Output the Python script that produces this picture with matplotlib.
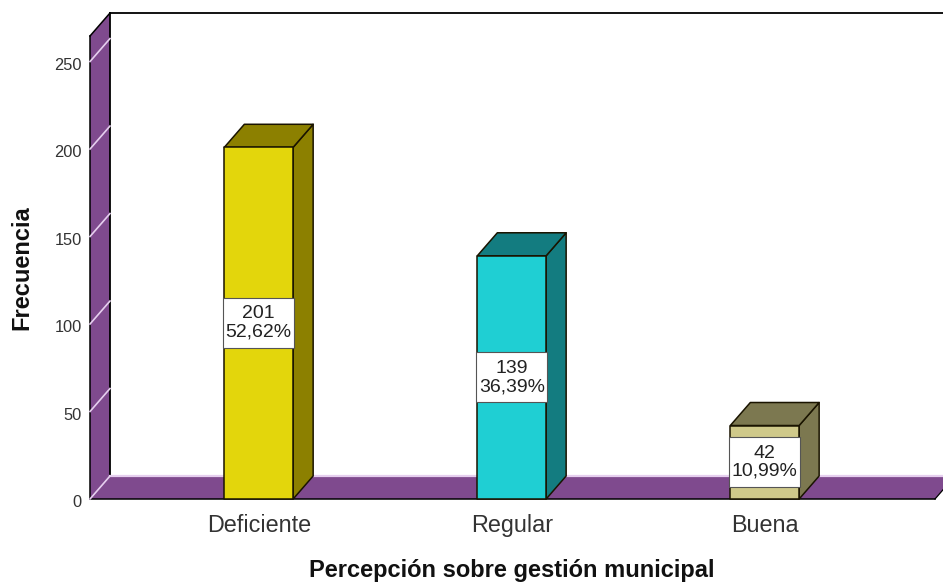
import matplotlib
matplotlib.use("Agg")
import matplotlib.pyplot as plt
from matplotlib.patches import Polygon
from matplotlib.transforms import Affine2D

plt.rcParams['font.family'] = ['Liberation Sans', 'DejaVu Sans']

categories = ['Deficiente', 'Regular', 'Buena']
counts = [201, 139, 42]
percents = ['52,62%', '36,39%', '10,99%']
yTicks = [0, 50, 100, 150, 200, 250]

frontColors = ['#E3D60C', '#1FCFD3', '#CFC98A']
sideColors = ['#8C8000', '#137C80', '#7C7850']
wallColor = '#7F4A8E'
tickColor = '#E6CFEF'
edgeColor = '#1A1400'

figWidth = 943
figHeight = 583
left, right = 90, 935
top, bottom = 36, 499
xMin, xMax = -0.667, 2.673
yMax = 264.6
barWidth = 0.272
boxWidth = 0.282
boxHeight = 28.6

fig = plt.figure(figsize=(figWidth/100, figHeight/100), dpi=100)
ax = fig.add_axes([left/figWidth, 1 - bottom/figHeight, (right-left)/figWidth, (bottom-top)/figHeight])
ax.set_xlim(xMin, xMax)
ax.set_ylim(0, yMax)
for spine in ax.spines.values():
    spine.set_visible(False)
ax.patch.set_alpha(0)

# depth of the fake 3d box, in data units
depthX = 20 * (xMax - xMin) / (right - left)
depthY = 23 * yMax / (bottom - top)

def face(points, color, z, edge=edgeColor, lw=1.1):
    ax.add_patch(Polygon(points, closed=True, facecolor=color, edgecolor=edge,
                         linewidth=lw, zorder=z, clip_on=False, joinstyle='round'))

# left wall
face([(xMin, 0), (xMin + depthX, depthY), (xMin + depthX, yMax + depthY), (xMin, yMax)], wallColor, 1, edge='none')
ax.plot([xMin, xMin], [0, yMax], color='black', lw=1.1, zorder=2, clip_on=False)
ax.plot([xMin + depthX, xMin + depthX], [depthY, yMax + depthY], color='black', lw=1.3, zorder=2, clip_on=False)
ax.plot([xMin, xMin + depthX], [yMax, yMax + depthY], color='black', lw=1.1, zorder=2, clip_on=False)
ax.plot([xMin + depthX, xMax + depthX], [yMax + depthY, yMax + depthY], color='black', lw=1.3, zorder=2, clip_on=False)

# floor
face([(xMin, 0), (xMin + depthX, depthY), (xMax + depthX, depthY), (xMax, 0)], wallColor, 1, edge='none')
ax.plot([xMin + depthX, xMax + depthX], [depthY, depthY], color=tickColor, lw=1.6, zorder=2, clip_on=False)
ax.plot([xMin, xMax], [0, 0], color='black', lw=1.1, zorder=2, clip_on=False)
ax.plot([xMax, xMax + depthX], [0, depthY], color='black', lw=0.9, zorder=2, clip_on=False)

# gridlines across the wall
for t in yTicks:
    ax.plot([xMin, xMin + depthX], [t, t + depthY], color=tickColor, lw=1.2, zorder=3, clip_on=False)

for i, value in enumerate(counts):
    x0 = i - barWidth/2
    x1 = i + barWidth/2
    face([(x1, 0), (x1 + depthX, depthY), (x1 + depthX, value + depthY), (x1, value)], sideColors[i], 4)
    face([(x0, value), (x1, value), (x1 + depthX, value + depthY), (x0 + depthX, value + depthY)], sideColors[i], 4)
    face([(x0, 0), (x1, 0), (x1, value), (x0, value)], frontColors[i], 5)
    # white label box, fixed size
    bx0, bx1 = i - boxWidth/2, i + boxWidth/2
    by0, by1 = value/2 - boxHeight/2, value/2 + boxHeight/2
    face([(bx0, by0), (bx1, by0), (bx1, by1), (bx0, by1)], 'white', 6, edge='#555555', lw=0.8)
    ax.text(i, value/2, f'{value}\n{percents[i]}', ha='center', va='center', fontsize=14,
            linespacing=1.1, color='#222222', zorder=7)

ax.set_xticks(range(len(categories)))
ax.set_xticklabels(categories, fontsize=16.8, color='#333333')
ax.set_yticks(yTicks)
ax.set_yticklabels(yTicks, fontsize=11.8, color='#333333')
ax.tick_params(axis='both', length=0)
ax.tick_params(axis='x', pad=11)
ax.tick_params(axis='y', pad=5.8)
for label in ax.get_yticklabels():
    label.set_transform(label.get_transform() + Affine2D().translate(0, -2))

fig.text(512/figWidth, 1 - 570/figHeight, 'Percepción sobre gestión municipal', ha='center', va='center',
         fontsize=17, fontweight='bold', color='#111111')
fig.text(22/figWidth, 1 - 268/figHeight, 'Frecuencia', ha='center', va='center', rotation=90,
         fontsize=17, fontweight='bold', color='#111111')

fig.savefig('out.png', dpi=100)
